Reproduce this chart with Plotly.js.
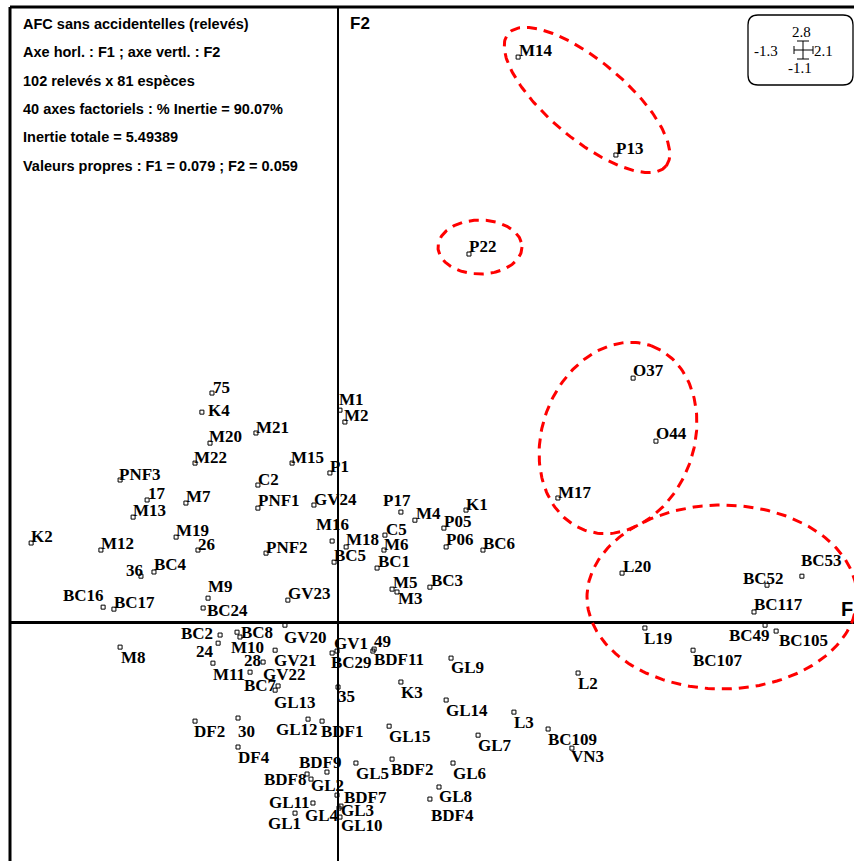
<!DOCTYPE html>
<html><head><meta charset="utf-8">
<script src="https://cdn.plot.ly/plotly-3.0.1.min.js"></script>
<style>body{margin:0;background:#fff}#chart{width:854px;height:861px}</style>
</head><body><div id="chart"></div>
<script>
// ---- data (factor coordinates) ----
const labels = ["M14","P13","P22","75","K4","M20","M21","M22","M15","PNF3",
"C2","17","M13","M7","PNF1","GV24","P1","M1","M2","M16",
"M18","BC5","PNF2","M19","26","M12","K2","BC4","36","BC16",
"BC17","M9","BC24","GV23","P17","C5","M6","M4","K1","P05",
"P06","BC6","BC1","M5","M3","BC3","M17","O37","O44","L20",
"BC52","BC53","BC117","BC49","BC105","L19","BC107","L2","GV1","49",
"BDF11","BC29","GL9","35","K3","GL14","L3","GL15","GL7","BC109",
"VN3","GL5","BDF2","GL6","GL8","BDF4","BDF7","GL3","GL10","GL2",
"BDF8","BDF9","GL11","GL4","GL1","BDF1","GL12","30","DF4","DF2",
"GL13","BC7","M8","BC2","BC8","GV20","24","M10","28","GV21",
"M11","GV22"];
const F1 = [0.733,1.131,0.533,-0.513,-0.554,-0.521,-0.334,-0.582,-0.187,-0.887,
-0.326,-0.777,-0.834,-0.619,-0.326,-0.098,-0.033,0.008,0.028,-0.024,
0.033,-0.016,-0.293,-0.659,-0.570,-0.965,-1.249,-0.749,-0.802,-0.956,
-0.912,-0.529,-0.549,-0.204,0.256,0.191,0.187,0.313,0.521,0.431,
0.440,0.590,0.159,0.220,0.240,0.374,0.895,1.201,1.294,1.156,
1.746,1.888,1.693,1.738,1.783,1.249,1.445,0.977,-0.004,0.147,
0.142,-0.024,0.460,0.000,0.256,0.440,0.716,0.208,0.570,0.855,
0.952,0.073,0.220,0.468,0.411,0.374,-0.004,0.012,0.008,-0.126,
-0.110,-0.045,-0.102,0.004,-0.175,-0.065,-0.122,-0.407,-0.407,-0.582,
-0.256,-0.244,-0.887,-0.480,-0.411,-0.216,-0.488,-0.399,-0.305,-0.256,
-0.509,-0.358];
const F2 = [2.573,2.127,1.676,1.043,0.956,0.815,0.861,0.724,0.724,0.647,
0.624,0.556,0.478,0.542,0.519,0.533,0.679,0.965,0.911,0.369,
0.342,0.273,0.314,0.387,0.328,0.328,0.360,0.228,0.209,0.068,
0.059,0.109,0.064,0.100,0.501,0.396,0.328,0.464,0.510,0.428,
0.342,0.328,0.246,0.150,0.137,0.159,0.565,1.111,0.824,0.223,
0.168,0.209,0.046,-0.014,-0.041,-0.027,-0.128,-0.232,-0.132,-0.123,
-0.132,-0.141,-0.164,-0.296,-0.273,-0.355,-0.410,-0.474,-0.515,-0.487,
-0.574,-0.642,-0.624,-0.642,-0.751,-0.806,-0.788,-0.838,-0.888,-0.692,
-0.715,-0.683,-0.824,-0.847,-0.870,-0.451,-0.442,-0.437,-0.569,-0.451,
-0.310,-0.291,-0.114,-0.059,-0.046,-0.014,-0.096,-0.068,-0.182,-0.128,
-0.187,-0.228];
const infoLines = ["AFC sans accidentelles (relevés)",
"Axe horl. : F1 ; axe vertl. : F2",
"102 relevés x 81 espèces",
"40 axes factoriels : % Inertie = 90.07%",
"Inertie totale = 5.49389",
"Valeurs propres : F1 = 0.079 ; F2 = 0.059"];
const rangeTop = "2.8", rangeLeft = "-1.3", rangeRight = "2.1", rangeBottom = "-1.1";

// ---- label placement, layout only: [dx of text left edge, dy of text centre] in pixels from the point ----
const labelOffset = [[0,-7],[-1,-7],[-1,-8],[0,-6],[5,-2],[-2,-7],[-1,-6],[-2,-6],[-2,-6],[-2,-6],
[-1,-6],[0,-6],[-1,-7],[-1,-7],[-1,-8],[-1,-6],[-1,-6],[-2,-11],[-2,-7],[-17,-17],
[-1,-7],[-1,-7],[-1,-6],[-1,-7],[-1,-6],[-1,-7],[-1,-7],[-1,-8],[-16,-6],[-41,-12],
[-1,-7],[-1,-12],[3,2],[-1,-7],[-19,-12],[0,-6],[-1,-6],[0,-7],[-1,-6],[-1,-7],
[-1,-7],[-1,-7],[0,-7],[0,-7],[0,6],[0,-7],[-1,-6],[-1,-8],[-1,-8],[0,-7],
[-25,-7],[-2,-16],[-1,-7],[-37,10],[2,9],[-2,10],[-1,10],[-1,10],[-4,-8],[-1,-8],
[0,8],[-2,9],[-1,9],[-1,9],[-1,10],[-1,10],[-1,10],[-1,10],[-1,10],[-1,10],
[-2,8],[-1,10],[-2,10],[-1,10],[-1,9],[0,16],[6,2],[-1,4],[0,8],[3,11],
[-48,0],[-29,-10],[-45,-1],[-35,7],[-28,10],[-2,10],[-33,10],[-1,13],[-1,10],[-2,10],
[-2,12],[-35,0],[0,10],[-40,-2],[3,0],[-2,12],[-23,8],[-10,10],[-20,-2],[-2,10],
[-1,11],[12,2]];

// ---- geometry ----
const W=854,H=861,L=10,T=7,PW=844,PH=854;
const X0=-1.335,X1=2.100,Y0=-1.088,Y1=2.801;
const xp = p => (p-L)/PW;            // pixel -> paper
const yp = p => 1-(p-T)/PH;
const xd = p => X0+(p-L)/PW*(X1-X0); // pixel -> data
const yd = p => Y1-(p-T)/PH*(Y1-Y0);

// red dashed ellipses (pixel centre, semi-axes, rotation in degrees)
const ellipses = [[587,100,103,39,40],[480,247,42,27,0],[618,438,98,76,-70],[722,597,135,92,0]];
const traces = [];
ellipses.forEach(e=>{
  const [cx,cy,a,b,ang]=e, th=ang*Math.PI/180, xs=[], ys=[];
  for(let i=0;i<=180;i++){const t=i/180*2*Math.PI;
    const px=cx+a*Math.cos(th)*Math.cos(t)-b*Math.sin(th)*Math.sin(t);
    const py=cy+a*Math.sin(th)*Math.cos(t)+b*Math.cos(th)*Math.sin(t);
    xs.push(xd(px)); ys.push(yd(py));}
  traces.push({x:xs,y:ys,mode:"lines",line:{color:"#ff0000",width:3,dash:"10px,7px"},hoverinfo:"skip",showlegend:false});
});
traces.push({x:F1,y:F2,text:labels,mode:"markers",
  marker:{symbol:"square-open",size:4,color:"#000",line:{width:1,color:"#000"}},
  cliponaxis:false,showlegend:false,hoverinfo:"text"});

const lf = {family:"Liberation Serif, Times New Roman, serif",size:17,color:"#000",weight:"bold"};
const annotations = labels.map((s,i)=>({xref:"x",yref:"y",x:F1[i],y:F2[i],text:s,showarrow:false,
  xanchor:"left",yanchor:"middle",xshift:labelOffset[i][0],yshift:-labelOffset[i][1],borderpad:0,font:lf}));
infoLines.forEach((s,i)=>annotations.push({xref:"paper",yref:"paper",x:xp(22),y:yp(24+i*28.3),
  xanchor:"left",yanchor:"middle",text:s,showarrow:false,borderpad:0,
  font:{family:"Liberation Sans, Arial, sans-serif",size:14.5,color:"#000",weight:"bold"}}));
annotations.push({xref:"paper",yref:"paper",x:xp(348),y:yp(23),xanchor:"left",yanchor:"middle",text:"F2",showarrow:false,
  font:{family:"Liberation Sans, Arial, sans-serif",size:17,color:"#000",weight:"bold"}});
annotations.push({xref:"paper",yref:"paper",x:xp(839),y:yp(609),xanchor:"left",yanchor:"middle",text:"F1",showarrow:false,
  font:{family:"Liberation Sans, Arial, sans-serif",size:20,color:"#000",weight:"bold"}});
const sf = {family:"Liberation Serif, Times New Roman, serif",size:15,color:"#000"};
[[rangeTop,801,32],[rangeLeft,766,51],[rangeRight,823,51],[rangeBottom,800,68]].forEach(([s,x,y])=>
  annotations.push({xref:"paper",yref:"paper",x:xp(x),y:yp(y),xanchor:"center",yanchor:"middle",text:s,showarrow:false,font:sf}));

const R = (x,y)=>xp(x)+","+yp(y);
const bx0=748,by0=15,bx1=853,by1=85,r=10;
const boxPath = "M"+R(bx0+r,by0)+" L"+R(bx1-r,by0)+" Q"+R(bx1,by0)+" "+R(bx1,by0+r)+" L"+R(bx1,by1-r)+" Q"+R(bx1,by1)+" "+R(bx1-r,by1)+
  " L"+R(bx0+r,by1)+" Q"+R(bx0,by1)+" "+R(bx0,by1-r)+" L"+R(bx0,by0+r)+" Q"+R(bx0,by0)+" "+R(bx0+r,by0)+" Z";
const ln = (x0,y0,x1,y1,w)=>({type:"line",xref:"paper",yref:"paper",x0:xp(x0),y0:yp(y0),x1:xp(x1),y1:yp(y1),line:{color:"#000",width:w}});
const shapes = [
  ln(10,7,854,7,3), ln(10,7,10,861,3),
  {type:"path",xref:"paper",yref:"paper",path:boxPath,line:{color:"#000",width:1.3}},
  ln(803,41,803,59,1), ln(797,41,809,41,1), ln(797,59,809,59,1),
  ln(794,50,813,50,1), ln(794,46,794,54,1), ln(813,46,813,54,1)
];

const layout = {width:W,height:H,margin:{l:L,r:0,t:T,b:0},paper_bgcolor:"#fff",plot_bgcolor:"#fff",
  showlegend:false,hovermode:false,
  xaxis:{range:[X0,X1],showgrid:false,showticklabels:false,ticks:"",showline:false,zeroline:true,zerolinecolor:"#000",zerolinewidth:2,fixedrange:true},
  yaxis:{range:[Y0,Y1],showgrid:false,showticklabels:false,ticks:"",showline:false,zeroline:true,zerolinecolor:"#000",zerolinewidth:3,fixedrange:true},
  annotations, shapes};
Plotly.newPlot("chart",traces,layout,{displayModeBar:false,staticPlot:true});
</script></body></html>
